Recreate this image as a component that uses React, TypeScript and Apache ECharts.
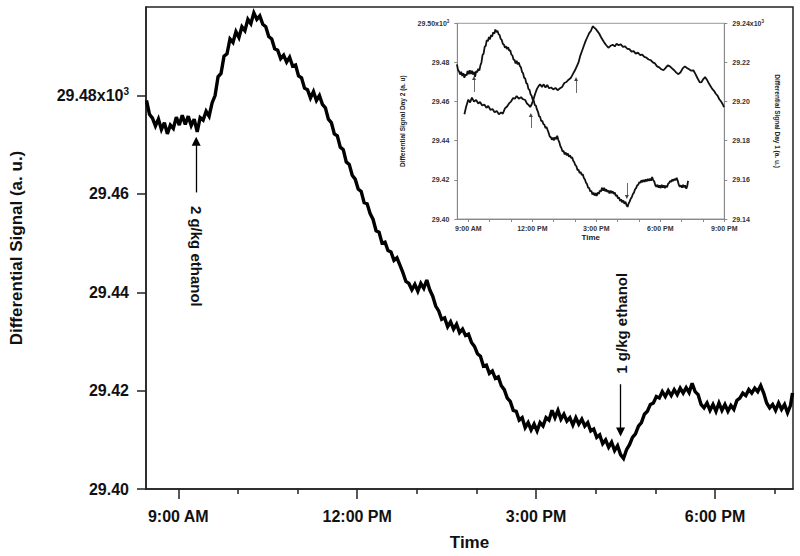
import React, { useEffect, useRef } from "react";
import * as echarts from "echarts";

// Day 2 differential signal (x10^3), [minutes since midnight, value]
const mainSignal: [number, number][] = [
  [508, 29.479], [511, 29.4762], [514, 29.4754], [517, 29.4738], [520, 29.4752], [523, 29.4731],
  [526, 29.4745], [529, 29.4722], [532, 29.474], [535, 29.4733], [538, 29.4756], [541, 29.474],
  [544, 29.476], [547, 29.4741], [550, 29.4758], [553, 29.4739], [556, 29.4752], [559, 29.4726],
  [562, 29.4755], [565, 29.475], [568, 29.4768], [571, 29.4758], [574, 29.4785], [577, 29.48],
  [580, 29.4838], [583, 29.4845], [586, 29.488], [589, 29.4885], [592, 29.4915], [595, 29.4908],
  [598, 29.493], [601, 29.4918], [604, 29.494], [607, 29.4932], [610, 29.4955], [613, 29.4946],
  [616, 29.4968], [619, 29.4955], [622, 29.4962], [625, 29.4945], [628, 29.494], [631, 29.492],
  [634, 29.4915], [637, 29.4895], [640, 29.4892], [643, 29.4875], [646, 29.4882], [649, 29.4868],
  [652, 29.4878], [655, 29.486], [658, 29.4862], [661, 29.484], [664, 29.4836], [667, 29.4815],
  [670, 29.4812], [673, 29.4795], [676, 29.4808], [679, 29.479], [682, 29.48], [685, 29.4782],
  [688, 29.4775], [691, 29.4752], [694, 29.4745], [697, 29.4722], [700, 29.4718], [703, 29.4695],
  [706, 29.469], [709, 29.4665], [712, 29.466], [715, 29.4638], [718, 29.463], [721, 29.461],
  [724, 29.4605], [727, 29.4582], [730, 29.458], [733, 29.456], [736, 29.4548], [739, 29.4525],
  [742, 29.4522], [745, 29.45], [748, 29.4502], [751, 29.4485], [754, 29.4482], [757, 29.4465],
  [760, 29.447], [763, 29.4455], [766, 29.444], [769, 29.4422], [772, 29.4418], [775, 29.4405],
  [778, 29.4416], [781, 29.4402], [784, 29.4418], [787, 29.4408], [790, 29.4425], [793, 29.4405],
  [796, 29.4392], [799, 29.4372], [802, 29.4362], [805, 29.4345], [808, 29.4348], [811, 29.433],
  [814, 29.434], [817, 29.4325], [820, 29.4335], [823, 29.4318], [826, 29.4325], [829, 29.4312],
  [832, 29.4315], [835, 29.4298], [838, 29.429], [841, 29.4275], [844, 29.427], [847, 29.425],
  [850, 29.4252], [853, 29.4235], [856, 29.424], [859, 29.4225], [862, 29.4228], [865, 29.421],
  [868, 29.4202], [871, 29.4185], [874, 29.4178], [877, 29.416], [880, 29.4158], [883, 29.414],
  [886, 29.4145], [889, 29.4125], [892, 29.4135], [895, 29.412], [898, 29.4132], [901, 29.4118],
  [904, 29.4135], [907, 29.4128], [910, 29.4145], [913, 29.414], [916, 29.416], [919, 29.4145],
  [922, 29.416], [925, 29.4142], [928, 29.4152], [931, 29.4138], [934, 29.4145], [937, 29.413],
  [940, 29.4145], [943, 29.4132], [946, 29.4142], [949, 29.4128], [952, 29.4135], [955, 29.4118],
  [958, 29.4122], [961, 29.4105], [964, 29.411], [967, 29.4092], [970, 29.41], [973, 29.4085],
  [976, 29.4095], [979, 29.4078], [982, 29.4088], [985, 29.407], [988, 29.4062], [991, 29.408],
  [994, 29.409], [997, 29.4105], [1000, 29.4112], [1003, 29.4128], [1006, 29.4135], [1009, 29.4152],
  [1012, 29.4158], [1015, 29.4172], [1018, 29.4175], [1021, 29.4188], [1024, 29.4185], [1027, 29.4198],
  [1030, 29.4188], [1033, 29.42], [1036, 29.419], [1039, 29.4202], [1042, 29.4192], [1045, 29.4205],
  [1048, 29.4195], [1051, 29.4206], [1054, 29.4196], [1057, 29.4215], [1060, 29.4198], [1063, 29.4192],
  [1066, 29.4172], [1069, 29.4165], [1072, 29.4175], [1075, 29.416], [1078, 29.4172], [1081, 29.4158],
  [1084, 29.4175], [1087, 29.416], [1090, 29.4172], [1093, 29.4158], [1096, 29.417], [1099, 29.4162],
  [1102, 29.418], [1105, 29.4185], [1108, 29.4195], [1111, 29.419], [1114, 29.4202], [1117, 29.4195],
  [1120, 29.4205], [1123, 29.4198], [1126, 29.421], [1129, 29.4195], [1132, 29.4175], [1135, 29.4165],
  [1138, 29.4172], [1141, 29.416], [1144, 29.4175], [1147, 29.4162], [1150, 29.4172], [1153, 29.4155],
  [1156, 29.417], [1158, 29.4195],
];

// Day 1 differential signal (x10^3), [minutes since midnight, value]
const day1Signal: [number, number][] = [
  [529, 29.1935], [534, 29.1975], [540, 29.201], [545, 29.1995], [550, 29.202], [556, 29.2],
  [562, 29.2008], [568, 29.199], [573, 29.1998], [579, 29.198], [585, 29.1985], [591, 29.1968],
  [596, 29.1978], [602, 29.1958], [608, 29.1962], [614, 29.1945], [620, 29.1952], [626, 29.1935],
  [632, 29.1945], [637, 29.1938], [643, 29.1965], [649, 29.1975], [655, 29.1992], [660, 29.2],
  [666, 29.2018], [671, 29.2015], [676, 29.2028], [682, 29.2015], [688, 29.2022], [694, 29.2012],
  [700, 29.2008], [705, 29.199], [710, 29.1982], [714, 29.1972], [718, 29.1985], [723, 29.201],
  [728, 29.204], [733, 29.2065], [738, 29.208], [742, 29.2088], [747, 29.2075], [752, 29.2088],
  [757, 29.2072], [762, 29.2085], [767, 29.2068], [773, 29.2072], [779, 29.2062], [785, 29.207],
  [791, 29.2058], [798, 29.2068], [804, 29.2075], [810, 29.2095], [816, 29.21], [822, 29.2112],
  [828, 29.212], [834, 29.214], [840, 29.216], [845, 29.218], [850, 29.22], [855, 29.2235],
  [860, 29.226], [865, 29.2285], [870, 29.231], [875, 29.233], [880, 29.235], [885, 29.2362],
  [890, 29.2385], [894, 29.2378], [898, 29.2372], [903, 29.236], [908, 29.2348], [913, 29.233],
  [918, 29.2315], [923, 29.23], [928, 29.2288], [934, 29.2275], [940, 29.2285], [946, 29.229],
  [952, 29.2282], [957, 29.2295], [963, 29.2288], [969, 29.2292], [975, 29.228], [981, 29.2282],
  [987, 29.227], [993, 29.2268], [999, 29.2255], [1005, 29.2258], [1011, 29.2245], [1017, 29.225],
  [1023, 29.2238], [1029, 29.224], [1035, 29.2228], [1041, 29.2225], [1047, 29.2215], [1053, 29.2212],
  [1059, 29.22], [1065, 29.2195], [1071, 29.218], [1077, 29.2175], [1083, 29.2165], [1089, 29.216],
  [1095, 29.2172], [1101, 29.2185], [1107, 29.218], [1113, 29.217], [1119, 29.216], [1125, 29.2148],
  [1131, 29.214], [1137, 29.215], [1143, 29.217], [1149, 29.218], [1155, 29.2172], [1161, 29.2165],
  [1167, 29.2158], [1173, 29.216], [1179, 29.214], [1185, 29.2118], [1191, 29.2098], [1196, 29.21],
  [1201, 29.2115], [1206, 29.2125], [1211, 29.2112], [1216, 29.2095], [1221, 29.208], [1226, 29.2065],
  [1231, 29.2055], [1236, 29.204], [1241, 29.203], [1246, 29.2012], [1251, 29.2], [1256, 29.1985],
  [1259, 29.1972],
];

const timeLabelValues = [540, 720, 900, 1080, 1260];
const timeLabelTexts = ["9:00 AM", "12:00 PM", "3:00 PM", "6:00 PM", "9:00 PM"];
const mainMinorTicks = [600, 660, 780, 840, 960, 1020, 1140];
const insetHourTicks = [540, 600, 660, 720, 780, 840, 900, 960, 1020, 1080, 1140, 1200, 1260];
const mainYTicks = [29.4, 29.42, 29.44, 29.46, 29.48];
const insetLeftTicks = [29.4, 29.42, 29.44, 29.46, 29.48, 29.5];
const insetRightTicks = [29.14, 29.16, 29.18, 29.2, 29.22, 29.24];

// annotations: time (min), arrow tail, arrow tip
const mainArrows = [
  { t: 558, from: 29.4603, to: 29.4707 },
  { t: 985, from: 29.4213, to: 29.4116 },
];
const mainNotes = [
  { t: 558, v: 29.4473, text: "2 g/kg ethanol", rotate: -90 },
  { t: 986, v: 29.4337, text: "1 g/kg ethanol", rotate: 90 },
];
const insetDay2Arrows = [
  { t: 556, from: 29.4649, to: 29.472 },
  { t: 986, from: 29.4184, to: 29.4112 },
];
const insetDay1Arrows = [
  { t: 716, from: 29.1865, to: 29.1931 },
  { t: 843, from: 29.2044, to: 29.2115 },
];

const FONT = 'Arial, "Liberation Sans", Helvetica, sans-serif';

const timeLabel = (v: number) => {
  const i = timeLabelValues.findIndex((x) => Math.abs(x - v) < 0.5);
  return i >= 0 ? timeLabelTexts[i] : "";
};

const sciLabel = (top: number) => (v: number) => {
  const s = v.toFixed(2);
  return Math.abs(v - top) < 1e-6 ? s + "x10{sup|3}" : s;
};

export default function App() {
  const ref = useRef<HTMLDivElement>(null);
  useEffect(() => {
    if (!ref.current) return;
    const chart = echarts.init(ref.current, undefined, { renderer: "svg" });
    const arrowLines = (arr: { t: number; from: number; to: number }[], size: number, color: string, width: number) => ({
      silent: true,
      symbol: ["none", "triangle"],
      symbolSize: size,
      lineStyle: { color, width, type: "solid" },
      itemStyle: { color },
      label: { show: false },
      emphasis: { disabled: true },
      data: arr.map((a) => [{ coord: [a.t, a.from] }, { coord: [a.t, a.to] }]),
    });
    chart.setOption({
      animation: false,
      backgroundColor: "#fff",
      textStyle: { fontFamily: FONT },
      grid: [
        { left: 145.7, right: 7, top: 7, bottom: 66, show: true, borderColor: "#222", borderWidth: 1.5 },
        { left: 457.3, right: 75.7, top: 23.3, bottom: 337, show: true, borderColor: "#999", borderWidth: 1 },
      ],
      xAxis: [
        {
          type: "value", gridIndex: 0, min: 507.5, max: 1158.5, position: "bottom",
          name: "Time", nameLocation: "middle", nameGap: 45,
          nameTextStyle: { fontSize: 17, fontWeight: "bold", color: "#111", fontFamily: FONT },
          axisLine: { show: true, lineStyle: { color: "#222", width: 1.5 } },
          axisTick: { show: true, customValues: timeLabelValues.slice(0, 4), length: 10, inside: false, lineStyle: { color: "#222", width: 1.5 } },
          axisLabel: { show: true, customValues: timeLabelValues.slice(0, 4), formatter: timeLabel, margin: 19, fontSize: 16, fontWeight: "bold", color: "#111", fontFamily: FONT },
          splitLine: { show: false },
        },
        {
          type: "value", gridIndex: 0, min: 507.5, max: 1158.5, position: "bottom",
          axisLine: { show: false },
          axisTick: { show: true, customValues: mainMinorTicks, length: 5, lineStyle: { color: "#222", width: 1.5 } },
          axisLabel: { show: false },
          splitLine: { show: false },
        },
        {
          type: "value", gridIndex: 1, min: 509, max: 1260, position: "bottom",
          name: "Time", nameLocation: "middle", nameGap: 14,
          nameTextStyle: { fontSize: 8, fontWeight: "bold", color: "#222", fontFamily: FONT },
          axisLine: { show: true, lineStyle: { color: "#888", width: 1 } },
          axisTick: { show: true, customValues: insetHourTicks, length: 3, lineStyle: { color: "#888", width: 1 } },
          axisLabel: { show: true, customValues: timeLabelValues, formatter: timeLabel, margin: 6, fontSize: 7, fontWeight: "bold", color: "#333", fontFamily: FONT },
          splitLine: { show: false },
        },
      ],
      yAxis: [
        {
          type: "value", gridIndex: 0, min: 29.4, max: 29.498,
          name: "Differential Signal (a. u.)", nameLocation: "middle", nameGap: 121, nameRotate: 90,
          nameTextStyle: { fontSize: 17, fontWeight: "bold", color: "#111", fontFamily: FONT },
          axisLine: { show: true, lineStyle: { color: "#222", width: 1.5 } },
          axisTick: { show: true, customValues: mainYTicks, length: 9, lineStyle: { color: "#222", width: 1.5 } },
          axisLabel: {
            show: true, customValues: mainYTicks, formatter: sciLabel(29.48), margin: 17,
            fontSize: 16, fontWeight: "bold", color: "#111", fontFamily: FONT,
            rich: { sup: { fontSize: 10, fontWeight: "bold", color: "#111", verticalAlign: "top", fontFamily: FONT, padding: [0, 0, 9, 0] } },
          },
          splitLine: { show: false },
        },
        {
          type: "value", gridIndex: 1, min: 29.4, max: 29.5, position: "left",
          name: "Differential Signal Day 2 (a. u)", nameLocation: "middle", nameGap: 51, nameRotate: 90,
          nameTextStyle: { fontSize: 6.5, fontWeight: "bold", color: "#222", fontFamily: FONT },
          axisLine: { show: true, lineStyle: { color: "#888", width: 1 } },
          axisTick: { show: true, customValues: insetLeftTicks, length: 3, lineStyle: { color: "#888", width: 1 } },
          axisLabel: {
            show: true, customValues: insetLeftTicks, formatter: sciLabel(29.5), margin: 8,
            fontSize: 7, fontWeight: "bold", color: "#333", fontFamily: FONT,
            rich: { sup: { fontSize: 4.5, fontWeight: "bold", color: "#333", verticalAlign: "top", fontFamily: FONT, padding: [0, 0, 4, 0] } },
          },
          splitLine: { show: false },
        },
        {
          type: "value", gridIndex: 1, min: 29.14, max: 29.24, position: "right",
          name: "Differential Signal Day 1 (a. u.)", nameLocation: "middle", nameGap: 50, nameRotate: -90,
          nameTextStyle: { fontSize: 6.5, fontWeight: "bold", color: "#222", fontFamily: FONT },
          axisLine: { show: true, lineStyle: { color: "#888", width: 1 } },
          axisTick: { show: true, customValues: insetRightTicks, length: 3, lineStyle: { color: "#888", width: 1 } },
          axisLabel: {
            show: true, customValues: insetRightTicks, formatter: sciLabel(29.24), margin: 8,
            fontSize: 7, fontWeight: "bold", color: "#333", fontFamily: FONT,
            rich: { sup: { fontSize: 4.5, fontWeight: "bold", color: "#333", verticalAlign: "top", fontFamily: FONT, padding: [0, 0, 4, 0] } },
          },
          splitLine: { show: false },
        },
      ],
      series: [
        {
          name: "Day 2", type: "line", xAxisIndex: 0, yAxisIndex: 0, data: mainSignal,
          showSymbol: false, symbol: "none", lineStyle: { color: "#000", width: 3.4, join: "miter", miterLimit: 3 },
          markLine: arrowLines(mainArrows, 9, "#000", 1.3),
          markPoint: {
            symbol: "circle", symbolSize: 1, itemStyle: { color: "rgba(0,0,0,0)" }, silent: true,
            label: { show: true, position: "inside", fontSize: 15, fontWeight: "bold", color: "#111", fontFamily: FONT },
            data: mainNotes.map((n) => ({ coord: [n.t, n.v], label: { rotate: n.rotate, formatter: n.text } })),
          },
        },
        {
          name: "Day 2 inset", type: "line", xAxisIndex: 2, yAxisIndex: 1, data: mainSignal,
          showSymbol: false, symbol: "none", lineStyle: { color: "#111", width: 1.8 },
          markLine: arrowLines(insetDay2Arrows, 4, "#444", 0.8),
        },
        {
          name: "Day 1 inset", type: "line", xAxisIndex: 2, yAxisIndex: 2, data: day1Signal,
          showSymbol: false, symbol: "none", lineStyle: { color: "#111", width: 1.8 },
          markLine: arrowLines(insetDay1Arrows, 4, "#444", 0.8),
        },
      ],
    });
    return () => chart.dispose();
  }, []);
  return <div ref={ref} style={{ position: "absolute", left: 0, top: 0, width: 800, height: 556 }} />;
}
